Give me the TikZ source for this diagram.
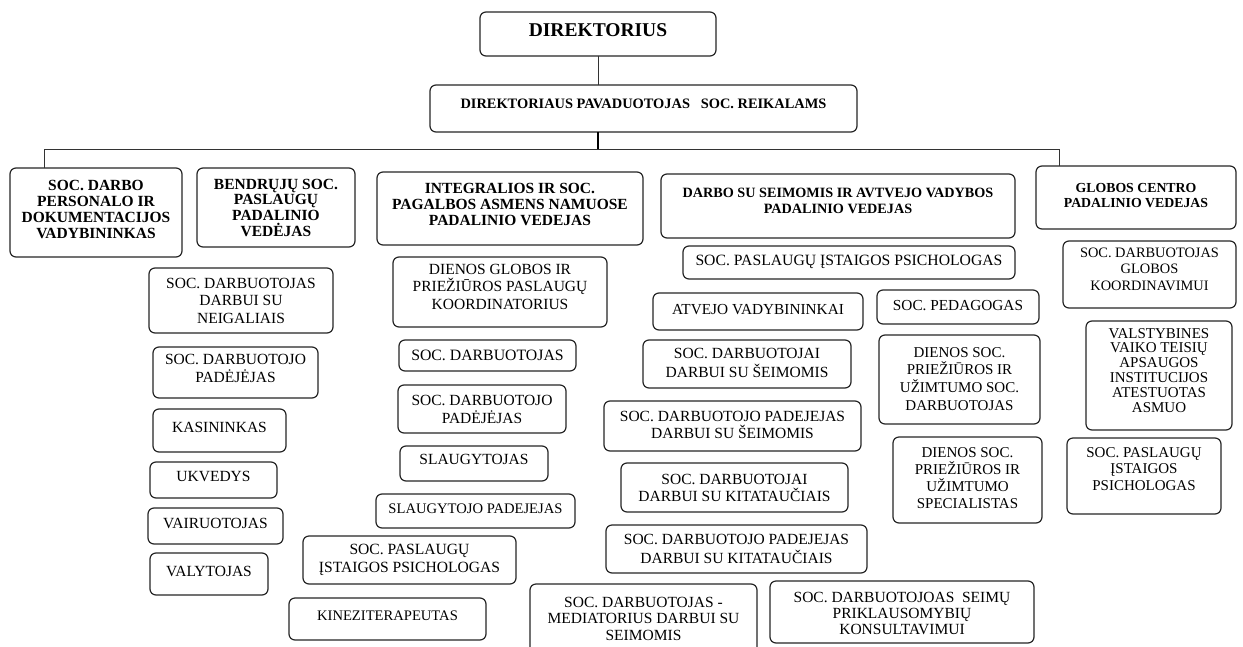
\documentclass[tikz,border=0pt]{standalone}
\usepackage{fontspec}
\setmainfont{Liberation Serif}
\newcommand{\fsz}[2]{\fontsize{#1}{#2}\selectfont}
% #1 name, #2 x1, #3 y1, #4 x2, #5 y2, #6 first baseline y, #7 font, #8 text
\newcommand{\obox}[8]{%
  \node[obx] (#1) at (#2,#3) {\parbox[c][\dimexpr #5pt-#3pt\relax][t]{\dimexpr #4pt-#2pt\relax}{\centering #7\rule{0pt}{\dimexpr #6pt-#3pt\relax}#8\par}};}
\begin{document}
\begin{tikzpicture}[x=1pt,y=-1pt,
  obx/.style={draw=black!85, line width=1.2pt, rounded corners=6pt, anchor=north west, inner sep=0pt, outer sep=0pt},
  link/.style={draw=black!80, line width=1pt}]
\useasboundingbox (0,0) rectangle (1243,646);
\clip (0,0) rectangle (1243,646);
\fill[white] (0,0) rectangle (1243,646);
% top
\obox{dir}{480}{12}{716}{56}{36}{\fsz{19.5}{22}\bfseries}{DIREKTORIUS}
\obox{dep}{430}{85}{857}{132}{108}{\fsz{14.4}{16}\bfseries}{DIREKTORIAUS PAVADUOTOJAS\ \ \ SOC. REIKALAMS}
% level 2
\obox{b4}{10}{168}{182}{257}{190}{\fsz{15.5}{16}\bfseries}{SOC. DARBO\\PERSONALO IR\\DOKUMENTACIJOS\\VADYBININKAS}
\obox{b5}{197}{168}{355}{247}{189}{\fsz{15.5}{15.8}\bfseries}{BENDRŲJŲ SOC.\\PASLAUGŲ\\PADALINIO\\VEDĖJAS}
\obox{b6}{377}{172}{643}{245}{193}{\fsz{15.5}{16}\bfseries}{INTEGRALIOS IR SOC.\\PAGALBOS ASMENS NAMUOSE\\PADALINIO VEDEJAS}
\obox{b7}{661}{174}{1015}{238}{197}{\fsz{14.2}{16}\bfseries}{DARBO SU SEIMOMIS IR AVTVEJO VADYBOS\\PADALINIO VEDEJAS}
\obox{b8}{1036}{166}{1236}{229}{192}{\fsz{13.8}{15}\bfseries}{GLOBOS CENTRO\\PADALINIO VEDEJAS}
% column under b5
\obox{b9}{149}{268}{333}{333}{288}{\fsz{15.5}{17.5}}{SOC. DARBUOTOJAS\\DARBUI SU\\NEIGALIAIS}
\obox{b10}{153}{347}{318}{398}{364}{\fsz{15.5}{18}}{SOC. DARBUOTOJO\\PADĖJĖJAS}
\obox{b11}{153}{409}{286}{452}{432}{\fsz{15.5}{17.5}}{KASININKAS}
\obox{b12}{150}{462}{277}{498}{481}{\fsz{15.5}{17.5}}{UKVEDYS}
\obox{b13}{148}{508}{283}{544}{528}{\fsz{15.5}{17.5}}{VAIRUOTOJAS}
\obox{b14}{150}{553}{268}{595}{576}{\fsz{15.5}{17.5}}{VALYTOJAS}
% column under b6
\obox{b15}{393}{257}{607}{327}{274}{\fsz{15.5}{17.5}}{DIENOS GLOBOS IR\\PRIEŽIŪROS PASLAUGŲ\\KOORDINATORIUS}
\obox{b16}{399}{340}{576}{371}{360}{\fsz{15.8}{17.5}}{SOC. DARBUOTOJAS}
\obox{b17}{398}{385}{566}{433}{405}{\fsz{15.5}{18}}{SOC. DARBUOTOJO\\PADĖJĖJAS}
\obox{b18}{400}{446}{548}{481}{464}{\fsz{15.5}{17.5}}{SLAUGYTOJAS}
\obox{b19}{376}{494}{575}{528}{513}{\fsz{14.6}{17.5}}{SLAUGYTOJO PADEJEJAS}
\obox{b20}{303}{536}{516}{584}{554}{\fsz{15.6}{18}}{SOC. PASLAUGŲ\\ĮSTAIGOS PSICHOLOGAS}
\obox{b21}{289}{598}{486}{640}{620}{\fsz{14.6}{17.5}}{KINEZITERAPEUTAS}
% column under b7
\obox{b22}{683}{246}{1015}{279}{265}{\fsz{15.7}{17.5}}{SOC. PASLAUGŲ ĮSTAIGOS PSICHOLOGAS}
\obox{b23}{653}{293}{863}{330}{314}{\fsz{15.3}{17.5}}{ATVEJO VADYBININKAI}
\obox{b24}{877}{290}{1039}{324}{310}{\fsz{15.3}{17.5}}{SOC. PEDAGOGAS}
\obox{b25}{643}{340}{851}{388}{358}{\fsz{15.5}{19}}{SOC. DARBUOTOJAI\\DARBUI SU ŠEIMOMIS}
\obox{b31}{879}{335}{1040}{424}{357}{\fsz{15}{17.7}}{DIENOS SOC.\\PRIEŽIŪROS IR\\UŽIMTUMO SOC.\\DARBUOTOJAS}
\obox{b26}{604}{401}{861}{451}{421}{\fsz{15.5}{17.5}}{SOC. DARBUOTOJO PADEJEJAS\\DARBUI SU ŠEIMOMIS}
\obox{b27}{621}{463}{848}{512}{484}{\fsz{15.5}{17.5}}{SOC. DARBUOTOJAI\\DARBUI SU KITATAUČIAIS}
\obox{b32}{893}{437}{1042}{523}{457}{\fsz{15}{17}}{DIENOS SOC.\\PRIEŽIŪROS IR\\UŽIMTUMO\\SPECIALISTAS}
\obox{b28}{606}{525}{867}{573}{544}{\fsz{15.5}{19}}{SOC. DARBUOTOJO PADEJEJAS\\DARBUI SU KITATAUČIAIS}
\obox{b29}{530}{584}{757}{670}{607}{\fsz{15.5}{16.5}}{SOC. DARBUOTOJAS -\\MEDIATORIUS DARBUI SU\\SEIMOMIS}
\obox{b30}{770}{581}{1034}{643}{602}{\fsz{15.5}{16}}{SOC. DARBUOTOJOAS\ \ SEIMŲ\\PRIKLAUSOMYBIŲ\\KONSULTAVIMUI}
% column under b8
\obox{b33}{1063}{241}{1236}{308}{257}{\fsz{14.4}{16.5}}{SOC. DARBUOTOJAS\\GLOBOS\\KOORDINAVIMUI}
\obox{b34}{1086}{321}{1232}{430}{338}{\fsz{15}{14.8}}{VALSTYBINES\\VAIKO TEISIŲ\\APSAUGOS\\INSTITUCIJOS\\ATESTUOTAS\\ASMUO}
\obox{b35}{1067}{438}{1221}{514}{457}{\fsz{15}{16.5}}{SOC. PASLAUGŲ\\ĮSTAIGOS\\PSICHOLOGAS}
% connectors
\coordinate (busL) at (44,149);
\coordinate (busR) at (1059,149);
\draw[link] (dir.south) -- (dir.south |- dep.north);
\draw[black, line width=2pt] (dir.south |- dep.south) -- (dir.south |- busL);
\draw[link] (busL |- b4.north) -- (busL) -- (busR) -- (busR |- b8.north);
\end{tikzpicture}
\end{document}
